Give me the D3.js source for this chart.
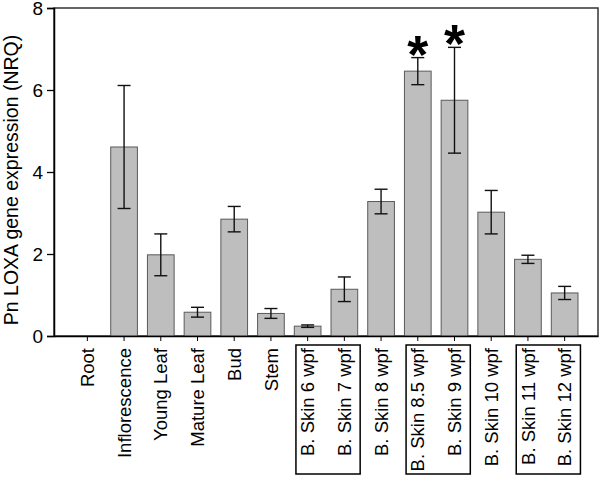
<!DOCTYPE html>
<html>
<head>
<meta charset="utf-8">
<script src="https://cdn.jsdelivr.net/npm/d3@7"></script>
<style>
  body { margin: 0; background: #fff; }
  svg { display: block; font-family: "Liberation Sans", Arial, Helvetica, sans-serif; }
</style>
</head>
<body>
<div id="chart"></div>
<script>
const categories = ["Root", "Inflorescence", "Young Leaf", "Mature Leaf", "Bud", "Stem",
  "B. Skin 6 wpf", "B. Skin 7 wpf", "B. Skin 8 wpf", "B. Skin 8.5 wpf", "B. Skin 9 wpf",
  "B. Skin 10 wpf", "B. Skin 11 wpf", "B. Skin 12 wpf"];
const means  = [0, 4.61, 1.98, 0.58, 2.85, 0.55, 0.24, 1.14, 3.28, 6.46, 5.75, 3.02, 1.87, 1.05];
const errors = [0, 1.50, 0.51, 0.12, 0.31, 0.12, 0.03, 0.30, 0.30, 0.33, 1.29, 0.53, 0.10, 0.16];
const significant = ["B. Skin 8.5 wpf", "B. Skin 9 wpf"];
const boxedGroups = [
  ["B. Skin 6 wpf", "B. Skin 7 wpf"],
  ["B. Skin 8.5 wpf", "B. Skin 9 wpf"],
  ["B. Skin 11 wpf", "B. Skin 12 wpf"]
];
const yTicks = [0, 2, 4, 6, 8];
const yTitle = "Pn LOXA gene expression (NRQ)";

const W = 600, H = 477;
const plot = {left: 54, right: 598, top: 8, bottom: 336};

const data = categories.map((c, i) => ({cat: c, mean: means[i], err: errors[i]}));

const svg = d3.select("#chart").append("svg")
  .attr("width", W).attr("height", H);

const x = d3.scaleBand()
  .domain(categories)
  .range([plot.left, plot.right])
  .paddingInner(0.273)
  .paddingOuter(0.545);

const y = d3.scaleLinear()
  .domain([0, 8])
  .range([plot.bottom, plot.top]);

const cx = d => x(d) + x.bandwidth() / 2;

// frame
svg.append("rect")
  .attr("x", plot.left).attr("y", plot.top)
  .attr("width", plot.right - plot.left).attr("height", plot.bottom - plot.top)
  .attr("fill", "none").attr("stroke", "#333").attr("stroke-width", 1.5);

// bars
svg.selectAll("rect.bar")
  .data(data.filter(d => d.mean > 0))
  .join("rect")
  .attr("class", "bar")
  .attr("x", d => x(d.cat))
  .attr("y", d => y(d.mean))
  .attr("width", x.bandwidth())
  .attr("height", d => y(0) - y(d.mean))
  .attr("fill", "#bebebe")
  .attr("stroke", "#5a5a5a")
  .attr("stroke-width", 1);

// error bars
const eb = svg.append("g").attr("stroke", "#111").attr("stroke-width", 1.4);
const capW = 6.5;
data.filter(d => d.err > 0).forEach(d => {
  const c = cx(d.cat);
  eb.append("line").attr("x1", c).attr("x2", c)
    .attr("y1", y(d.mean + d.err)).attr("y2", y(d.mean - d.err));
  [d.mean + d.err, d.mean - d.err].forEach(v => {
    eb.append("line").attr("x1", c - capW).attr("x2", c + capW)
      .attr("y1", y(v)).attr("y2", y(v));
  });
});

// significance asterisks
svg.selectAll("text.star")
  .data(data.filter(d => significant.includes(d.cat)))
  .join("text")
  .attr("class", "star")
  .attr("x", d => cx(d.cat))
  .attr("y", d => y(d.mean + d.err) + 15)
  .attr("text-anchor", "middle")
  .attr("font-size", 54)
  .attr("font-weight", "bold")
  .text("*");

// y axis
const yAxis = svg.append("g")
  .attr("transform", `translate(${plot.left},0)`)
  .call(d3.axisLeft(y).tickValues(yTicks).tickSize(7).tickPadding(4).tickFormat(d3.format("d")));
yAxis.selectAll("text").attr("font-size", 19).attr("fill", "#000")
  .attr("dy", "0.36em")
  .style("font-family", "'Liberation Sans', Arial, sans-serif");
yAxis.selectAll("line").attr("stroke", "#000").attr("stroke-width", 1.3);
yAxis.select(".domain").attr("stroke", "#000").attr("stroke-width", 1.5);

// x axis
const xAxis = svg.append("g")
  .attr("transform", `translate(0,${plot.bottom})`)
  .call(d3.axisBottom(x).tickSize(5).tickSizeOuter(0));
xAxis.select(".domain").attr("stroke", "#000").attr("stroke-width", 1.5);
xAxis.selectAll("line").attr("stroke", "#000").attr("stroke-width", 1);
xAxis.selectAll("text")
  .attr("transform", "rotate(-90)")
  .attr("x", -12).attr("y", 0).attr("dy", "0.36em")
  .style("text-anchor", "end")
  .style("font-family", "'Liberation Sans', Arial, sans-serif")
  .attr("font-size", 18.5).attr("fill", "#000");

// boxes around grouped labels
svg.selectAll("rect.group")
  .data(boxedGroups)
  .join("rect")
  .attr("class", "group")
  .attr("x", g => cx(g[0]) - 11.7)
  .attr("y", 345)
  .attr("width", g => cx(g[g.length - 1]) - cx(g[0]) + 11.7 + 15.8)
  .attr("height", 129)
  .attr("fill", "none").attr("stroke", "#000").attr("stroke-width", 1.5);

// y title
svg.append("text")
  .attr("transform", `translate(17.5,${(plot.top + plot.bottom) / 2 + 8}) rotate(-90)`)
  .attr("text-anchor", "middle")
  .attr("font-size", 19.5)
  .text(yTitle);
</script>
</body>
</html>
